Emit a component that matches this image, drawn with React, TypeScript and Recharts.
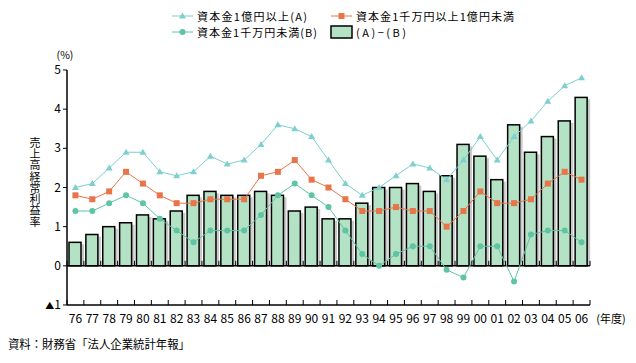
import React from 'react';
import { ComposedChart, Bar, Line, XAxis, YAxis, ReferenceLine, Legend, Label } from 'recharts';

const years = ['76','77','78','79','80','81','82','83','84','85','86','87','88','89','90','91','92','93','94','95','96','97','98','99','00','01','02','03','04','05','06'];
const capLarge = [2.0,2.1,2.5,2.9,2.9,2.4,2.3,2.4,2.8,2.6,2.7,3.1,3.6,3.5,3.3,2.7,2.1,1.8,2.0,2.3,2.6,2.5,2.2,2.7,3.3,2.7,3.3,3.7,4.2,4.6,4.8];
const capMid = [1.8,1.7,1.9,2.4,2.1,1.8,1.6,1.6,1.7,1.7,1.7,2.3,2.4,2.7,2.2,2.0,1.7,1.4,1.4,1.5,1.4,1.4,1.0,1.4,1.9,1.6,1.6,1.7,2.1,2.4,2.2];
const capSmall = [1.4,1.4,1.6,1.8,1.6,1.2,0.9,0.6,0.9,0.9,0.9,1.3,1.8,2.1,1.8,1.5,0.9,0.3,0.0,0.3,0.5,0.5,-0.1,-0.3,0.5,0.5,-0.4,0.8,0.9,0.9,0.6];
const gapAB = [0.6,0.8,1.0,1.1,1.3,1.2,1.4,1.8,1.9,1.8,1.8,1.9,1.8,1.4,1.5,1.2,1.2,1.6,2.0,2.0,2.1,1.9,2.3,3.1,2.8,2.2,3.6,2.9,3.3,3.7,4.3];
const yTicks = [-1,0,1,2,3,4,5];

const nameA = '資本金1億円以上(A)';
const nameM = '資本金1千万円以上1億円未満';
const nameB = '資本金1千万円未満(B)';
const nameD = '(A)−(B)';

const data = years.map((y, i) => ({ year: y, a: capLarge[i], m: capMid[i], b: capSmall[i], d: gapAB[i] }));

const W = 636, H = 363;
const PL = 67, PR = 590, PT = 70, PB = 305;
const X_AXIS_H = 30;
const Y_AXIS_W = 40;
const BAND = (PR - PL) / years.length;
const Y_MIN = -1, Y_MAX = 5;
const ZERO_Y = PT + (Y_MAX / (Y_MAX - Y_MIN)) * (PB - PT);
const FONT = '"Noto Sans CJK JP", "Noto Sans", sans-serif';

const C_A = '#7ecfcf';
const C_M = '#e8744a';
const C_B = '#5ec4a4';
const C_BAR = '#b4e2c4';
const C_SHADOW = '#c9c9c9';

const Tri = ({ cx, cy, color }: any) => (
  <path d={`M${cx},${cy - 3.5} L${cx + 3.5},${cy + 2.5} L${cx - 3.5},${cy + 2.5} Z`} fill={color} />
);
const Sq = ({ cx, cy, color }: any) => (
  <rect x={cx - 3} y={cy - 3} width={6} height={6} fill={color} />
);
const Circ = ({ cx, cy, color }: any) => <circle cx={cx} cy={cy} r={3} fill={color} />;

const BarShape = (props: any) => {
  const { x, y, width, height } = props;
  if (height == null || width == null) return <g />;
  return (
    <g>
      <rect x={x + 3} y={y + 2} width={width} height={Math.max(0, height - 2)} fill={C_SHADOW} />
      <rect x={x} y={y} width={width} height={height} fill={C_BAR} stroke="#000" strokeWidth={1.5} />
    </g>
  );
};

const XTick = (props: any) => {
  const { x, payload, index } = props;
  const left = x - BAND / 2;
  const right = x + BAND / 2;
  const last = index === years.length - 1;
  return (
    <g>
      <line x1={left} x2={left} y1={PB} y2={PB - 5} stroke="#000" strokeWidth={1} />
      <line x1={left} x2={left} y1={ZERO_Y} y2={ZERO_Y - 5} stroke="#000" strokeWidth={1} />
      {last && <line x1={right} x2={right} y1={PB} y2={PB - 5} stroke="#000" strokeWidth={1} />}
      {last && <line x1={right} x2={right} y1={ZERO_Y} y2={ZERO_Y - 5} stroke="#000" strokeWidth={1} />}
      <text x={x} y={PB + 18} textAnchor="middle" fontSize={12} fontFamily={FONT} fill="#000">{payload.value}</text>
    </g>
  );
};

const YTick = (props: any) => {
  const { x, y, payload } = props;
  const v = payload.value;
  return (
    <text x={x} y={y + 4} textAnchor="end" fontSize={12} fontFamily={FONT} fill="#000">
      {v < 0 ? (<><tspan fontSize={9}>▲</tspan>{String(Math.abs(v))}</>) : String(v)}
    </text>
  );
};

const yTitle = '売上高経常利益率';

const YDecor = () => (
  <g fontFamily={FONT} fill="#000">
    <text x={65} y={59} textAnchor="middle" fontSize={10.5}>(%)</text>
    <text x={35} y={137} fontSize={11} letterSpacing={0.3} style={{ writingMode: 'vertical-rl' as any }}>{yTitle}</text>
  </g>
);

const XDecor = () => (
  <g fontFamily={FONT} fill="#000">
    <text x={611} y={PB + 18} textAnchor="middle" fontSize={11}>(年度)</text>
    <text x={8} y={349} fontSize={12} textLength={182} lengthAdjust="spacingAndGlyphs">資料：財務省「法人企業統計年報」</text>
  </g>
);

const LegendContent = () => {
  const items = [
    { x: 172, y: 16, name: nameA, kind: 'tri', color: C_A, len: 110 },
    { x: 331, y: 16, name: nameM, kind: 'sq', color: C_M, len: 158 },
    { x: 172, y: 32, name: nameB, kind: 'circ', color: C_B, len: 120 },
    { x: 331, y: 32, name: nameD, kind: 'bar', color: C_BAR, len: 50 },
  ];
  return (
    <svg width={W} height={45} style={{ display: 'block' }}>
      {items.map((it, i) => (
        <g key={i}>
          {it.kind === 'bar' ? (
            <rect x={it.x} y={it.y - 6} width={21} height={12} fill={C_BAR} stroke="#000" strokeWidth={1.5} />
          ) : (
            <g>
              <line x1={it.x} x2={it.x + 21} y1={it.y} y2={it.y} stroke={it.color} strokeWidth={1} />
              {it.kind === 'tri' && <Tri cx={it.x + 10.5} cy={it.y} color={it.color} />}
              {it.kind === 'sq' && <Sq cx={it.x + 10.5} cy={it.y} color={it.color} />}
              {it.kind === 'circ' && <Circ cx={it.x + 10.5} cy={it.y} color={it.color} />}
            </g>
          )}
          <text x={it.x + 25} y={it.y + 4.5} fontSize={11} fontFamily={FONT} fill="#000"
            textLength={it.len} lengthAdjust="spacing">{it.name}</text>
        </g>
      ))}
    </svg>
  );
};

export default function App() {
  return (
    <div style={{ position: 'absolute', left: 0, top: 0, width: W, height: H, background: '#fff' }}>
      <ComposedChart
        width={W}
        height={H}
        data={data}
        margin={{ top: PT, right: W - PR, bottom: H - PB - X_AXIS_H, left: PL - Y_AXIS_W }}
        barSize={12}
      >
        <XAxis
          dataKey="year"
          interval={0}
          tickLine={false}
          axisLine={{ stroke: '#000', strokeWidth: 1.5 }}
          tick={(p: any) => <XTick {...p} />}
          height={X_AXIS_H}
        >
          <Label content={() => <XDecor />} />
        </XAxis>
        <YAxis
          type="number"
          domain={[Y_MIN, Y_MAX]}
          ticks={yTicks}
          interval={0}
          width={Y_AXIS_W}
          tickSize={4}
          tickLine={{ stroke: '#000', strokeWidth: 1 }}
          axisLine={{ stroke: '#000', strokeWidth: 1.5 }}
          tick={(p: any) => <YTick {...p} />}
        >
          <Label content={() => <YDecor />} />
        </YAxis>
        <Legend
          verticalAlign="middle"
          align="center"
          content={() => <LegendContent />}
          wrapperStyle={{ position: 'absolute', left: 0, top: 0, width: W, height: 45 }}
        />
        <Bar dataKey="d" name={nameD} shape={(p: any) => <BarShape {...p} />} isAnimationActive={false} />
        <ReferenceLine y={0} stroke="#000" strokeWidth={1.5} />
        <Line dataKey="a" name={nameA} stroke={C_A} strokeWidth={1} isAnimationActive={false}
          dot={(p: any) => <Tri key={`a${p.index}`} cx={p.cx} cy={p.cy} color={C_A} />} activeDot={false} />
        <Line dataKey="m" name={nameM} stroke={C_M} strokeWidth={1} isAnimationActive={false}
          dot={(p: any) => <Sq key={`m${p.index}`} cx={p.cx} cy={p.cy} color={C_M} />} activeDot={false} />
        <Line dataKey="b" name={nameB} stroke={C_B} strokeWidth={1} isAnimationActive={false}
          dot={(p: any) => <Circ key={`b${p.index}`} cx={p.cx} cy={p.cy} color={C_B} />} activeDot={false} />
      </ComposedChart>
    </div>
  );
}
